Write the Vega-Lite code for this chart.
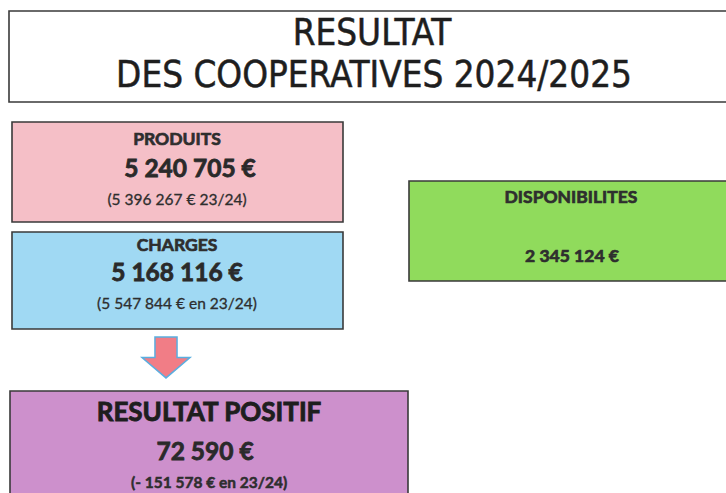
{
  "$schema": "https://vega.github.io/schema/vega-lite/v6.json",
  "width": 726,
  "height": 493,
  "autosize": {"type": "fit", "contains": "padding"},
  "padding": 0,
  "background": "#ffffff",
  "config": {"view": {"stroke": null}},
  "datasets": {
    "boxes": [
      {"box": "titre", "x": 9, "x2": 740, "y": 11, "y2": 102},
      {"box": "produits", "x": 12, "x2": 343, "y": 122, "y2": 222},
      {"box": "charges", "x": 12, "x2": 343, "y": 232, "y2": 329},
      {"box": "resultat", "x": 10, "x2": 408, "y": 391, "y2": 505},
      {"box": "disponibilites", "x": 409, "x2": 740, "y": 181, "y2": 281}
    ],
    "texts": [
      {"role": "title", "x": 372, "y": 34, "label": "RESULTAT"},
      {"role": "title", "x": 374, "y": 76, "label": "DES COOPERATIVES 2024/2025"},
      {"role": "head", "x": 177, "y": 140, "label": "PRODUITS"},
      {"role": "value", "x": 190, "y": 170, "label": "5 240 705 €"},
      {"role": "note", "x": 177, "y": 200, "label": "(5 396 267 € 23/24)"},
      {"role": "head", "x": 177, "y": 246, "label": "CHARGES"},
      {"role": "value", "x": 177, "y": 274, "label": "5 168 116 €"},
      {"role": "note", "x": 177, "y": 304, "label": "(5 547 844 € en 23/24)"},
      {"role": "head", "x": 571, "y": 198, "label": "DISPONIBILITES"},
      {"role": "head", "x": 572, "y": 257, "label": "2 345 124 €"},
      {"role": "big", "x": 209, "y": 413, "label": "RESULTAT POSITIF"},
      {"role": "value", "x": 205, "y": 453, "label": "72 590 €"},
      {"role": "notebold", "x": 209, "y": 483, "label": "(- 151 578 € en 23/24)"}
    ],
    "arrow": [{"x": 166, "y": 357.5}]
  },
  "layer": [
    {
      "data": {"name": "boxes"},
      "mark": {"type": "rect", "stroke": "#3a3a3a", "strokeWidth": 1.6, "clip": true},
      "encoding": {
        "x": {"field": "x", "type": "quantitative", "scale": {"domain": [0, 726], "nice": false, "zero": false}, "axis": null},
        "x2": {"field": "x2"},
        "y": {"field": "y", "type": "quantitative", "scale": {"domain": [0, 493], "nice": false, "zero": false, "reverse": true}, "axis": null},
        "y2": {"field": "y2"},
        "fill": {
          "field": "box", "type": "nominal", "legend": null,
          "scale": {
            "domain": ["titre", "produits", "charges", "resultat", "disponibilites"],
            "range": ["#ffffff", "#f5bfc7", "#a0d9f3", "#cd90cc", "#90db5c"]
          }
        }
      }
    },
    {
      "data": {"name": "arrow"},
      "mark": {
        "type": "point", "filled": true, "fill": "#f17d86", "stroke": "#5aaee0", "strokeWidth": 1.5, "opacity": 1,
        "shape": "M-0.46,-0.85 L0.46,-0.85 L0.46,0 L1,0 L0,0.85 L-1,0 L-0.46,0 Z",
        "size": 2304
      },
      "encoding": {
        "x": {"field": "x", "type": "quantitative"},
        "y": {"field": "y", "type": "quantitative"}
      }
    },
    {
      "data": {"name": "texts"},
      "transform": [{"filter": "datum.role === 'title'"}],
      "mark": {"type": "text", "font": "DejaVu Sans Condensed", "fontSize": 36.5, "fill": "#1e1e1e", "stroke": "#1e1e1e", "strokeWidth": 0.5, "align": "center", "baseline": "middle"},
      "encoding": {
        "x": {"field": "x", "type": "quantitative"},
        "y": {"field": "y", "type": "quantitative"},
        "text": {"field": "label"}
      }
    },
    {
      "data": {"name": "texts"},
      "transform": [{"filter": "datum.role === 'head'"}],
      "mark": {"type": "text", "font": "Lato", "fontWeight": "bold", "fontSize": 17.5, "fill": "#2e2e2e", "stroke": "#2e2e2e", "strokeWidth": 0.7, "align": "center", "baseline": "middle"},
      "encoding": {
        "x": {"field": "x", "type": "quantitative"},
        "y": {"field": "y", "type": "quantitative"},
        "text": {"field": "label"}
      }
    },
    {
      "data": {"name": "texts"},
      "transform": [{"filter": "datum.role === 'value'"}],
      "mark": {"type": "text", "font": "Lato", "fontWeight": "bold", "fontSize": 24.5, "fill": "#2a2a2a", "stroke": "#2a2a2a", "strokeWidth": 0.8, "align": "center", "baseline": "middle"},
      "encoding": {
        "x": {"field": "x", "type": "quantitative"},
        "y": {"field": "y", "type": "quantitative"},
        "text": {"field": "label"}
      }
    },
    {
      "data": {"name": "texts"},
      "transform": [{"filter": "datum.role === 'big'"}],
      "mark": {"type": "text", "font": "Lato", "fontWeight": "bold", "fontSize": 26, "fill": "#1e1e1e", "stroke": "#1e1e1e", "strokeWidth": 0.9, "align": "center", "baseline": "middle"},
      "encoding": {
        "x": {"field": "x", "type": "quantitative"},
        "y": {"field": "y", "type": "quantitative"},
        "text": {"field": "label"}
      }
    },
    {
      "data": {"name": "texts"},
      "transform": [{"filter": "datum.role === 'note'"}],
      "mark": {"type": "text", "font": "Lato", "fontSize": 15.5, "fill": "#2e2e2e", "stroke": "#2e2e2e", "strokeWidth": 0.3, "align": "center", "baseline": "middle"},
      "encoding": {
        "x": {"field": "x", "type": "quantitative"},
        "y": {"field": "y", "type": "quantitative"},
        "text": {"field": "label"}
      }
    },
    {
      "data": {"name": "texts"},
      "transform": [{"filter": "datum.role === 'notebold'"}],
      "mark": {"type": "text", "font": "Lato", "fontWeight": "bold", "fontSize": 15.5, "fill": "#2e2e2e", "stroke": "#2e2e2e", "strokeWidth": 0.5, "align": "center", "baseline": "middle"},
      "encoding": {
        "x": {"field": "x", "type": "quantitative"},
        "y": {"field": "y", "type": "quantitative"},
        "text": {"field": "label"}
      }
    }
  ]
}
